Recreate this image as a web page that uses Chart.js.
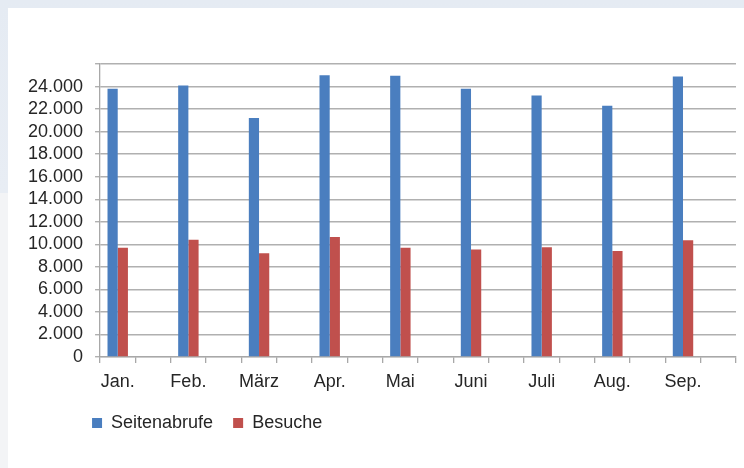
<!DOCTYPE html>
<html lang="de">
<head>
<meta charset="utf-8">
<title>Seitenabrufe und Besuche</title>
<script src="https://cdn.jsdelivr.net/npm/chart.js@4/dist/chart.umd.min.js"></script>
<style>
    html, body {
        margin: 0;
        padding: 0;
        width: 744px;
        height: 468px;
        overflow: hidden;
        background: linear-gradient(180deg, #e5ebf3 0, #e8edf4 193px, #f3f4f6 193px, #f3f4f6 100%);
    }
    #card {
        position: absolute;
        left: 8px;
        top: 8px;
        width: 736px;
        height: 460px;
        background: #ffffff;
    }
    #wrap {
        position: absolute;
        left: 0;
        top: 0;
        width: 744px;
        height: 468px;
    }
</style>
</head>
<body>
<div id="card"></div>
<div id="wrap"><canvas id="chart"></canvas></div>
<script>
// ── Data ─────────────────────────────────────────────────────
const MONTHS = ['Jan.', 'Feb.', 'März', 'Apr.', 'Mai', 'Juni', 'Juli', 'Aug.', 'Sep.'];
const SEITENABRUFE = [23800, 24100, 21200, 25000, 24950, 23800, 23200, 22300, 24900];
const BESUCHE = [9700, 10400, 9200, 10650, 9700, 9550, 9750, 9400, 10350];
const Y_MAX = 26000;
const Y_STEP = 2000;

// every month is followed by an empty slot, like the Excel original
const spread = arr => arr.flatMap(v => [v, null]);
const labels = MONTHS.flatMap(m => [m, '']);

const fmtDe = v => v.toLocaleString('de-DE');

// ── Legend moved to the left under the plot ──────────────────
const LEGEND_PAD = 20;
const legendShift = {
    id: 'legendShift',
    afterLayout(chart) {
        const lg = chart.legend;
        const w = lg.right - lg.left;
        lg.left = chart.chartArea.left - 8 - LEGEND_PAD;
        lg.right = lg.left + w;
    },
};

const FONT = { family: 'Liberation Sans, Arial, sans-serif', size: 18 };

new Chart(document.getElementById('chart'), {
    type: 'bar',
    data: {
        labels,
        datasets: [
            {
                label: 'Seitenabrufe',
                data: spread(SEITENABRUFE),
                backgroundColor: '#4a7ebf',
                borderWidth: 0,
            },
            {
                label: 'Besuche',
                data: spread(BESUCHE),
                backgroundColor: '#c0504d',
                borderWidth: 0,
            },
        ],
    },
    options: {
        responsive: true,
        maintainAspectRatio: false,
        animation: false,
        datasets: {
            bar: {
                categoryPercentage: 0.578,
                barPercentage: 1,
                skipNull: false,
            },
        },
        layout: {
            padding: { left: 16, right: 8, top: 64, bottom: 26 },
        },
        scales: {
            x: {
                offset: true,
                grid: {
                    offset: true,
                    drawOnChartArea: false,
                    drawTicks: true,
                    tickLength: 6,
                    color: '#a8a8a8',
                    lineWidth: 1.3,
                },
                border: { color: '#a8a8a8', width: 1.3 },
                ticks: {
                    autoSkip: false,
                    maxRotation: 0,
                    color: '#262626',
                    font: FONT,
                    padding: 8,
                },
                afterFit: scale => { scale.height = 37; },
            },
            y: {
                min: 0,
                max: Y_MAX,
                grid: {
                    color: '#b0b0b0',
                    lineWidth: 1.4,
                    drawTicks: true,
                    tickLength: 5,
                },
                border: { color: '#a8a8a8', width: 1.3 },
                ticks: {
                    stepSize: Y_STEP,
                    autoSkip: false,
                    color: '#262626',
                    font: FONT,
                    padding: 12,
                    callback: v => (v >= Y_MAX ? '' : fmtDe(v)),
                },
            },
        },
        plugins: {
            legend: {
                position: 'bottom',
                align: 'start',
                labels: {
                    boxWidth: 10,
                    boxHeight: 10,
                    padding: LEGEND_PAD,
                    color: '#262626',
                    font: FONT,
                },
            },
            tooltip: { enabled: false },
        },
    },
    plugins: [legendShift],
});
</script>
</body>
</html>
